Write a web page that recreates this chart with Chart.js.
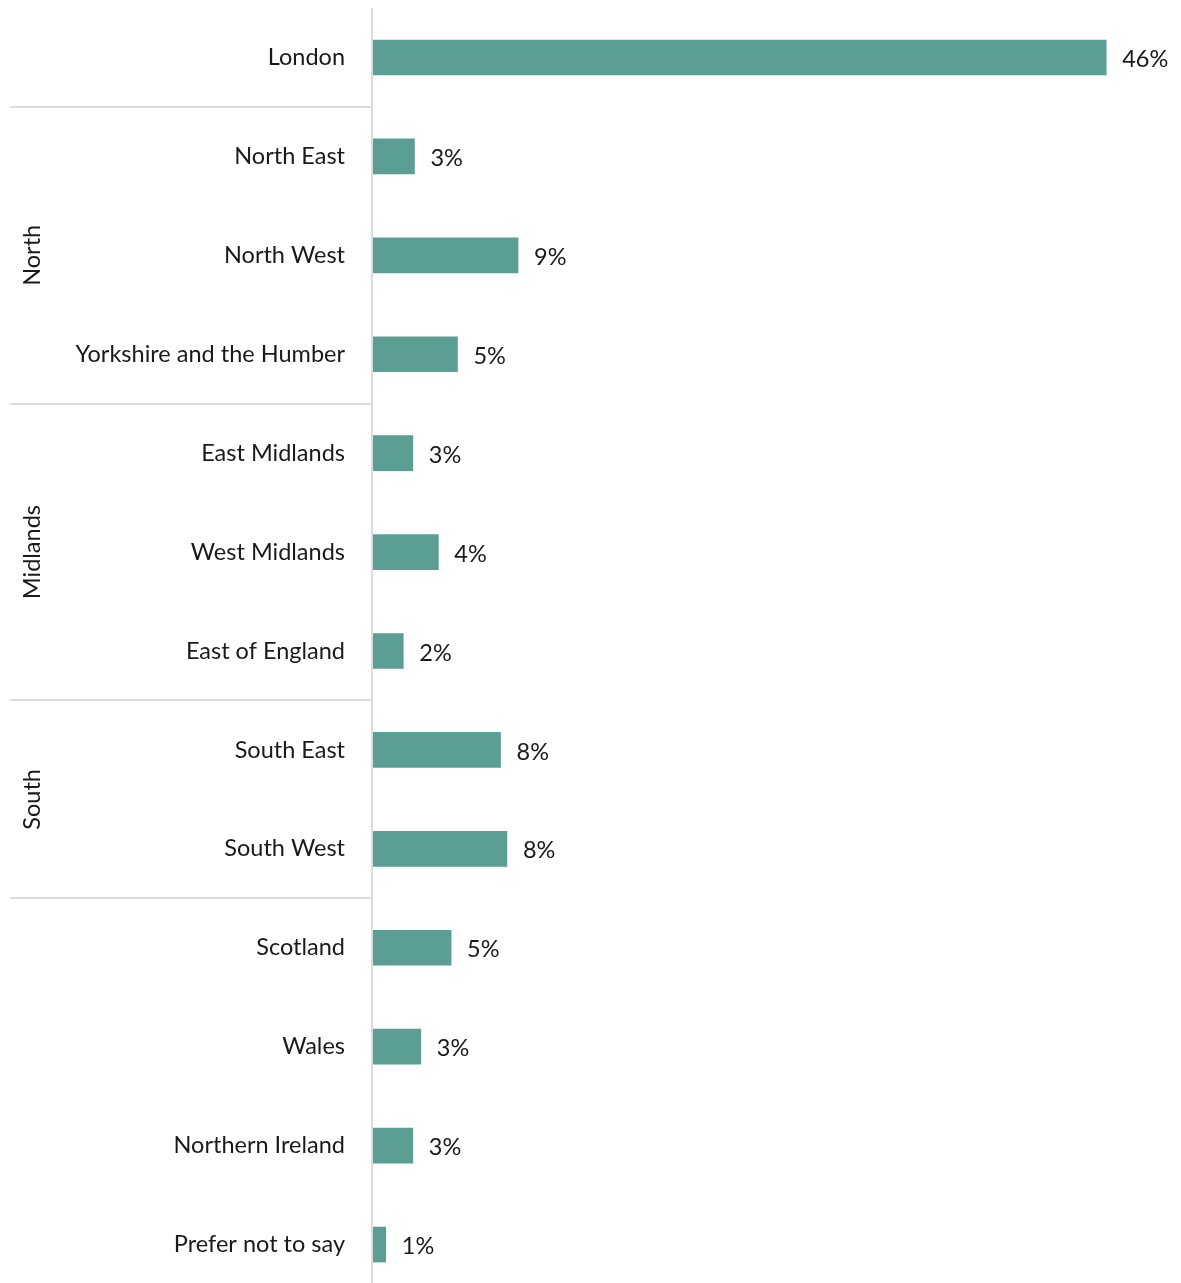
<!DOCTYPE html>
<html>
<head>
<meta charset="utf-8">
<script src="https://cdn.jsdelivr.net/npm/chart.js@4/dist/chart.umd.min.js"></script>
<style>
  html, body { margin: 0; padding: 0; background: #fff; overflow: hidden; }
  #wrap { position: relative; width: 1181px; height: 1300px; }
</style>
</head>
<body>
<div id="wrap"><canvas id="chart"></canvas></div>
<script>
const regions = ['London', 'North East', 'North West', 'Yorkshire and the Humber',
    'East Midlands', 'West Midlands', 'East of England', 'South East', 'South West',
    'Scotland', 'Wales', 'Northern Ireland', 'Prefer not to say'];
const shares = [46.0, 2.6, 9.1, 5.3, 2.5, 4.1, 1.9, 8.0, 8.4, 4.9, 3.0, 2.5, 0.8];
const shareLabels = ['46%', '3%', '9%', '5%', '3%', '4%', '2%', '8%', '8%', '5%', '3%', '3%', '1%'];
// groups: name, first row index, last row index
const groupNames = ['North', 'Midlands', 'South'];
const groupStart = [1, 4, 7];
const groupEnd = [3, 6, 8];
// separators drawn after these row indexes
const separatorAfter = [0, 3, 6, 8];

const FONT = 'Lato, "Noto Sans", sans-serif';
const FONT_SIZE = 23.5;

const decorPlugin = {
    id: 'decor',
    afterDatasetsDraw(chart) {
        const ctx = chart.ctx;
        const y = chart.scales.y;
        const area = chart.chartArea;
        const rowH = y.getPixelForValue(1) - y.getPixelForValue(0);
        ctx.save();

        // separators on the left
        ctx.strokeStyle = '#dcdcdc';
        ctx.lineWidth = 2;
        separatorAfter.forEach(i => {
            const py = Math.round(y.getPixelForValue(i) + rowH / 2);
            ctx.beginPath();
            ctx.moveTo(10, py);
            ctx.lineTo(area.left - 1, py);
            ctx.stroke();
        });
        // vertical axis line
        ctx.beginPath();
        ctx.moveTo(area.left - 1, area.top);
        ctx.lineTo(area.left - 1, chart.height);
        ctx.stroke();

        // group labels
        ctx.fillStyle = '#1a1a1a';
        ctx.font = FONT_SIZE + 'px ' + FONT;
        ctx.textAlign = 'center';
        ctx.textBaseline = 'middle';
        groupNames.forEach((name, i) => {
            const cy = (y.getPixelForValue(groupStart[i]) + y.getPixelForValue(groupEnd[i])) / 2;
            ctx.save();
            ctx.translate(32, cy);
            ctx.rotate(-Math.PI / 2);
            ctx.fillText(name, 0, 0);
            ctx.restore();
        });

        // value labels
        const meta = chart.getDatasetMeta(0);
        ctx.textAlign = 'left';
        meta.data.forEach((bar, i) => {
            ctx.fillText(shareLabels[i], bar.x + 16, bar.y + 2);
        });
        ctx.restore();
    }
};

new Chart(document.getElementById('chart'), {
    type: 'bar',
    data: {
        labels: regions,
        datasets: [{
            data: shares,
            backgroundColor: '#5a9e94',
            borderWidth: 0,
            barThickness: 35
        }]
    },
    options: {
        indexAxis: 'y',
        responsive: true,
        maintainAspectRatio: false,
        animation: false,
        layout: { padding: { top: 8, bottom: 6, right: 11, left: 0 } },
        plugins: {
            legend: { display: false },
            tooltip: { enabled: false }
        },
        scales: {
            x: {
                display: false,
                min: 0,
                max: 50
            },
            y: {
                grid: { display: false, drawTicks: false },
                border: { display: false },
                ticks: {
                    color: '#1a1a1a',
                    font: { family: FONT, size: FONT_SIZE },
                    padding: 28,
                    crossAlign: 'near'
                },
                afterFit(scale) {
                    scale.width = 373;
                    scale.paddingTop = 0;
                    scale.paddingBottom = 0;
                }
            }
        }
    },
    plugins: [decorPlugin]
});
</script>
</body>
</html>
